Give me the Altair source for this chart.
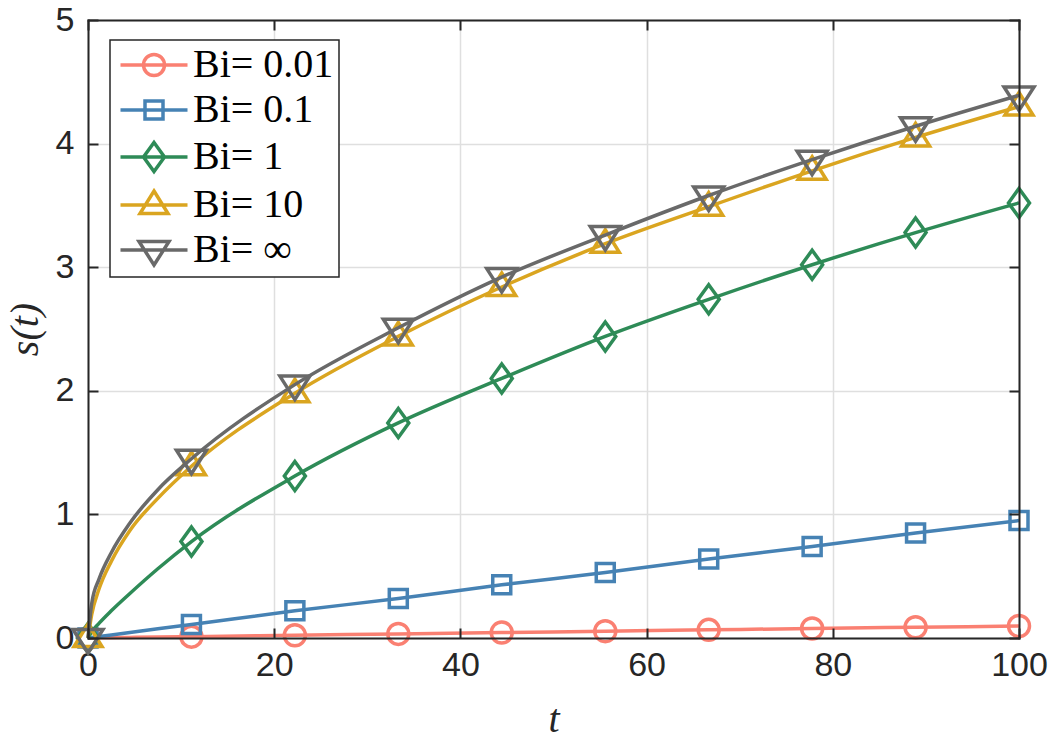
import altair as alt
import pandas as pd

# Plot-area size in pixels
W, H = 931, 618

# Sampling times of the markers and a few extra early times for the curves
T_MARK = [0, 11.11, 22.22, 33.33, 44.44, 55.56, 66.67, 77.78, 88.89, 100]
T_EARLY = [0.4, 1.2, 2.5, 4.5, 7.5]

LABELS = ["Bi= 0.01", "Bi= 0.1", "Bi= 1", "Bi= 10", "Bi= \u221e"]
COLORS = ["#FA8072", "#4682B4", "#2E8B57", "#DAA520", "#696969"]

# Interface position s(t) at the marker times
S_BI001 = [0, 0.011, 0.022, 0.033, 0.044, 0.055, 0.066, 0.077, 0.087, 0.097]
S_BI01 = [0, 0.11, 0.22, 0.32, 0.43, 0.53, 0.64, 0.74, 0.85, 0.95]
S_BI1 = [0, 0.78, 1.31, 1.74, 2.10, 2.44, 2.74, 3.02, 3.28, 3.52]
S_BI10 = [0, 1.39, 1.98, 2.44, 2.84, 3.19, 3.49, 3.78, 4.05, 4.30]
S_BIINF = [0, 1.45, 2.05, 2.51, 2.92, 3.26, 3.58, 3.87, 4.14, 4.39]

# s(t) at the early times (curve only, no markers)
E_BI001 = [0.0004, 0.0012, 0.0025, 0.0045, 0.0075]
E_BI01 = [0.004, 0.012, 0.025, 0.045, 0.075]
E_BI1 = [0.05, 0.12, 0.22, 0.36, 0.56]
E_BI10 = [0.19, 0.40, 0.62, 0.87, 1.13]
E_BIINF = [0.28, 0.48, 0.69, 0.93, 1.20]

TICKS_X = [0, 20, 40, 60, 80, 100]
TICKS_Y = [0, 1, 2, 3, 4, 5]

# Marker outlines in symbol units (1 unit = sqrt(size)/2 px)
MARKERS = [
    "M1.05,0A1.05,1.05,0,1,1,-1.05,0A1.05,1.05,0,1,1,1.05,0Z",
    "M-0.9,-0.9H0.9V0.9H-0.9Z",
    "M0,-1.45L1.05,0L0,1.45L-1.05,0Z",
    "M0,-1.4L1.4,0.85H-1.4Z",
    "M0,1.5L1.5,-0.85H-1.5Z",
]
LEGEND_SYMBOLS = ["M-3.35,0H3.35" + m for m in MARKERS]

series_mark = [S_BI001, S_BI01, S_BI1, S_BI10, S_BIINF]
series_early = [E_BI001, E_BI01, E_BI1, E_BI10, E_BIINF]

mark_rows, line_rows = [], []
for lab, sm, se in zip(LABELS, series_mark, series_early):
    for t, s in zip(T_MARK, sm):
        mark_rows.append({"t": t, "s": s, "Bi": lab})
    for t, s in sorted(list(zip(T_MARK, sm)) + list(zip(T_EARLY, se))):
        line_rows.append({"t": t, "s": s, "Bi": lab})
mark_df = pd.DataFrame(mark_rows)
line_df = pd.DataFrame(line_rows)

xs = alt.Scale(domain=[0, 100], nice=False, zero=False)
ys = alt.Scale(domain=[0, 5], nice=False, zero=False)

INK = "#262626"
LW = 3.5


def xy(ax=None, ay=None):
    return dict(
        x=alt.X("t:Q", scale=xs, axis=ax),
        y=alt.Y("s:Q", scale=ys, axis=ay),
    )


label_style = dict(
    labelFont="Liberation Sans", labelFontSize=34, labelColor=INK,
    labelFlush=False, labelOverlap=False,
    titleFont="Liberation Serif", titleFontStyle="italic",
    titleFontWeight="normal", titleFontSize=40, titleColor=INK,
    grid=True, gridColor="#DFDFDF", gridWidth=1.5,
    domain=False, ticks=False, zindex=0,
)
x_main = alt.Axis(orient="bottom", values=TICKS_X, labelPadding=10,
                  title="t", titlePadding=17, **label_style)
y_main = alt.Axis(orient="left", values=TICKS_Y, labelPadding=14,
                  title="s(t)", titlePadding=10, **label_style)

tick_style = dict(
    labels=False, ticks=True, tickSize=10, tickWidth=2, tickColor=INK,
    domain=True, domainColor=INK, domainWidth=2, domainCap="square",
    grid=False, title=None, zindex=1,
)
# Inward ticks: each axis is moved onto the opposite edge of the box
x_in_bottom = alt.Axis(orient="top", offset=-H, values=TICKS_X, **tick_style)
x_in_top = alt.Axis(orient="bottom", offset=-H, values=TICKS_X, **tick_style)
y_in_left = alt.Axis(orient="right", offset=-W, values=TICKS_Y, **tick_style)
y_in_right = alt.Axis(orient="left", offset=-W, values=TICKS_Y, **tick_style)

empty = alt.Chart(mark_df).transform_filter("datum.t < 0")

layers = [
    empty.mark_point(opacity=0).encode(**xy(x_main, y_main)),
]

for lab, col, mk in zip(LABELS, COLORS, MARKERS):
    layers.append(
        alt.Chart(line_df).transform_filter(alt.datum.Bi == lab)
        .mark_line(color=col, strokeWidth=LW, interpolate="monotone")
        .encode(**xy())
    )
    layers.append(
        alt.Chart(mark_df).transform_filter(alt.datum.Bi == lab)
        .mark_point(shape=mk, size=400, filled=False, strokeWidth=LW,
                    color=col, opacity=1)
        .encode(**xy())
    )

legend = alt.Legend(
    title=None, orient="none", legendX=22, legendY=20, direction="vertical",
    padding=5, rowPadding=5, symbolOffset=19, labelOffset=19,
    symbolSize=400, symbolStrokeWidth=LW, symbolOpacity=1,
    labelFont="Liberation Serif", labelFontSize=40, labelColor="black",
    labelLimit=0, strokeColor=INK, fillColor="white", cornerRadius=0,
)
layers.append(
    empty.mark_point(filled=False, strokeWidth=LW, opacity=1)
    .encode(
        color=alt.Color("Bi:N", scale=alt.Scale(domain=LABELS, range=COLORS),
                        legend=legend),
        shape=alt.Shape("Bi:N", scale=alt.Scale(domain=LABELS,
                                                range=LEGEND_SYMBOLS),
                        legend=legend),
        **xy(),
    )
)
layers.append(empty.mark_point(opacity=0).encode(**xy(x_in_bottom, y_in_left)))
layers.append(empty.mark_point(opacity=0).encode(**xy(x_in_top, y_in_right)))

chart = (
    alt.layer(*layers)
    .resolve_axis(x="independent", y="independent")
    .properties(
        width=W, height=H,
        padding={"left": 88, "top": 20, "right": 34, "bottom": 104},
        autosize=alt.AutoSizeParams(type="none"),
        background="white",
    )
    .configure_view(stroke=None)
    .configure_legend(strokeWidth=1.5)
)

chart.save("out.html", embed_options={"renderer": "svg", "actions": False})
